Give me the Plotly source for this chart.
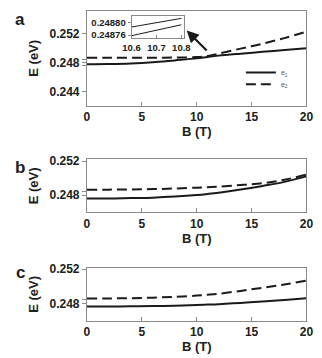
import plotly.graph_objects as go

W, H = 322, 358

B = [0, 2, 4, 6, 8, 10, 11, 12, 14, 16, 18, 20]

# Panel a
a_e1 = [0.24780, 0.24781, 0.24788, 0.24805, 0.24832, 0.24860, 0.24880, 0.24898, 0.24925, 0.24950, 0.24975, 0.25000]
a_e2 = [0.24868, 0.24868, 0.24868, 0.24869, 0.24871, 0.24878, 0.24892, 0.24925, 0.24995, 0.25063, 0.25140, 0.25230]
# Panel b
b_e1 = [0.24760, 0.24760, 0.24765, 0.24770, 0.24782, 0.24800, 0.24813, 0.24828, 0.24865, 0.24908, 0.24955, 0.25020]
b_e2 = [0.24864, 0.24864, 0.24866, 0.24870, 0.24877, 0.24887, 0.24893, 0.24900, 0.24918, 0.24940, 0.24980, 0.25040]
# Panel c
c_e1 = [0.24762, 0.24762, 0.24765, 0.24768, 0.24773, 0.24780, 0.24785, 0.24790, 0.24805, 0.24822, 0.24840, 0.24858]
c_e2 = [0.24856, 0.24857, 0.24860, 0.24866, 0.24876, 0.24890, 0.24900, 0.24912, 0.24945, 0.24982, 0.25020, 0.25065]

# Inset (zoom near anticrossing)
inset_B = [10.6, 10.7, 10.8]
inset_upper = [0.248785, 0.248799, 0.248812]
inset_lower = [0.248758, 0.248775, 0.248792]

x_ticks = [0, 5, 10, 15, 20]
a_yticks = [0.244, 0.248, 0.252]
a_minor = [0.2476, 0.2484]
bc_yticks = [0.248, 0.252]
bc_minor = [0.2484]
inset_xticks = [10.6, 10.7, 10.8]
inset_yticks = [0.24876, 0.24880]

LINE = "#1a1a1a"
AX = "#8a8a8a"
TXT = "#202020"
FONT = "Liberation Sans"

def bold(vals, fmt):
    return ["<b>" + format(v, fmt) + "</b>" for v in vals]

fig = go.Figure()

def add_pair(e1, e2, xa, ya, legend):
    fig.add_trace(go.Scatter(x=B, y=e1, mode="lines", line=dict(color=LINE, width=2, shape="spline"),
                             xaxis=xa, yaxis=ya, name="e<sub>1</sub>", showlegend=legend, legend="legend"))
    fig.add_trace(go.Scatter(x=B, y=e2, mode="lines", line=dict(color=LINE, width=2, dash="10px,5px", shape="spline"),
                             xaxis=xa, yaxis=ya, name="e<sub>2</sub>", showlegend=legend, legend="legend2"))

add_pair(a_e1, a_e2, "x", "y", True)
add_pair(b_e1, b_e2, "x2", "y2", False)
add_pair(c_e1, c_e2, "x3", "y3", False)

fig.add_trace(go.Scatter(x=inset_B, y=inset_upper, mode="lines", line=dict(color=LINE, width=1),
                         xaxis="x4", yaxis="y4", showlegend=False))
fig.add_trace(go.Scatter(x=inset_B, y=inset_lower, mode="lines", line=dict(color=LINE, width=1),
                         xaxis="x4", yaxis="y4", showlegend=False))

xd = [82 / W, 313 / W]

def ydom(top, bot):
    return [1 - bot / H, 1 - top / H]

tickfont = dict(family=FONT, size=12, color=TXT)
titlefont = dict(family=FONT, size=13, color=TXT)

def xaxis(anchor):
    return dict(domain=xd, anchor=anchor, range=[0, 20], tickvals=x_ticks, ticktext=bold(x_ticks, "d"),
                ticks="inside", ticklen=4,
                tickcolor=AX, tickwidth=1, showline=True, linecolor=AX, linewidth=1, mirror=True,
                showgrid=False, zeroline=False, tickfont=tickfont,
                title=dict(text="<b>B (T)</b>", font=titlefont, standoff=3))

def yaxis(anchor, dom, rng, tv, minor):
    return dict(domain=dom, anchor=anchor, range=list(rng), tickvals=tv, ticktext=bold(tv, ".3f"),
                ticks="outside",
                ticklen=4, tickcolor=AX, tickwidth=1, showline=True, linecolor=AX, linewidth=1, mirror=True,
                showgrid=False, zeroline=False, tickfont=tickfont,
                minor=dict(tickvals=minor, ticks="outside", ticklen=4, tickcolor=AX, showgrid=False),
                title=dict(text="<b>E (eV)</b>", font=titlefont, standoff=7))

smallfont = dict(family=FONT, size=9.5, color=TXT)
legfont = dict(family=FONT, size=7, color="#555")

fig.update_layout(
    width=W, height=H, margin=dict(l=0, r=0, t=0, b=0),
    paper_bgcolor="white", plot_bgcolor="white",
    xaxis=xaxis("y"),
    yaxis=yaxis("x", ydom(5, 102), (0.24206, 0.25516), a_yticks, a_minor),
    xaxis2=xaxis("y2"),
    yaxis2=yaxis("x2", ydom(157, 211), (0.24598, 0.25218), bc_yticks, bc_minor),
    xaxis3=xaxis("y3"),
    yaxis3=yaxis("x3", ydom(268, 322), (0.24596, 0.25212), bc_yticks, bc_minor),
    xaxis4=dict(domain=[129 / W, 184 / W], anchor="y4", range=[10.6, 10.81], tickvals=inset_xticks,
                ticktext=bold(inset_xticks, ".1f"),
                ticks="inside", ticklen=3, tickcolor=AX, showline=True, linecolor=AX, linewidth=1,
                mirror=True, showgrid=False, zeroline=False, tickfont=smallfont),
    yaxis4=dict(domain=ydom(10, 33), anchor="x4", range=[0.24875, 0.24882], tickvals=inset_yticks,
                ticktext=bold(inset_yticks, ".5f"), ticks="outside", ticklen=3, tickcolor=AX, showline=True,
                linecolor=AX, linewidth=1, mirror=True, showgrid=False, zeroline=False, tickfont=smallfont),
    legend=dict(x=244 / W, y=1 - 68 / H, xanchor="left", yanchor="middle", bgcolor="rgba(0,0,0,0)",
                font=legfont, itemwidth=30),
    legend2=dict(x=244 / W, y=1 - 80 / H, xanchor="left", yanchor="middle", bgcolor="rgba(0,0,0,0)",
                 font=legfont, itemwidth=30),
    showlegend=True,
)

# Arrow from the anticrossing up to the inset
fig.add_annotation(x=9.09, y=0.25245, xref="x", yref="y", ax=23, ay=23, axref="pixel", ayref="pixel",
                   showarrow=True, arrowhead=2, arrowsize=1.1, arrowwidth=2.2, arrowcolor=LINE, text=" ")

for lab, ypx in [("a", 14), ("b", 165), ("c", 273)]:
    fig.add_annotation(x=12 / W, y=1 - ypx / H, xref="paper", yref="paper", xanchor="center",
                       yanchor="middle", text="<b>" + lab + "</b>", showarrow=False,
                       font=dict(family=FONT, size=17, color="#222"))

fig.write_html("out.html")
